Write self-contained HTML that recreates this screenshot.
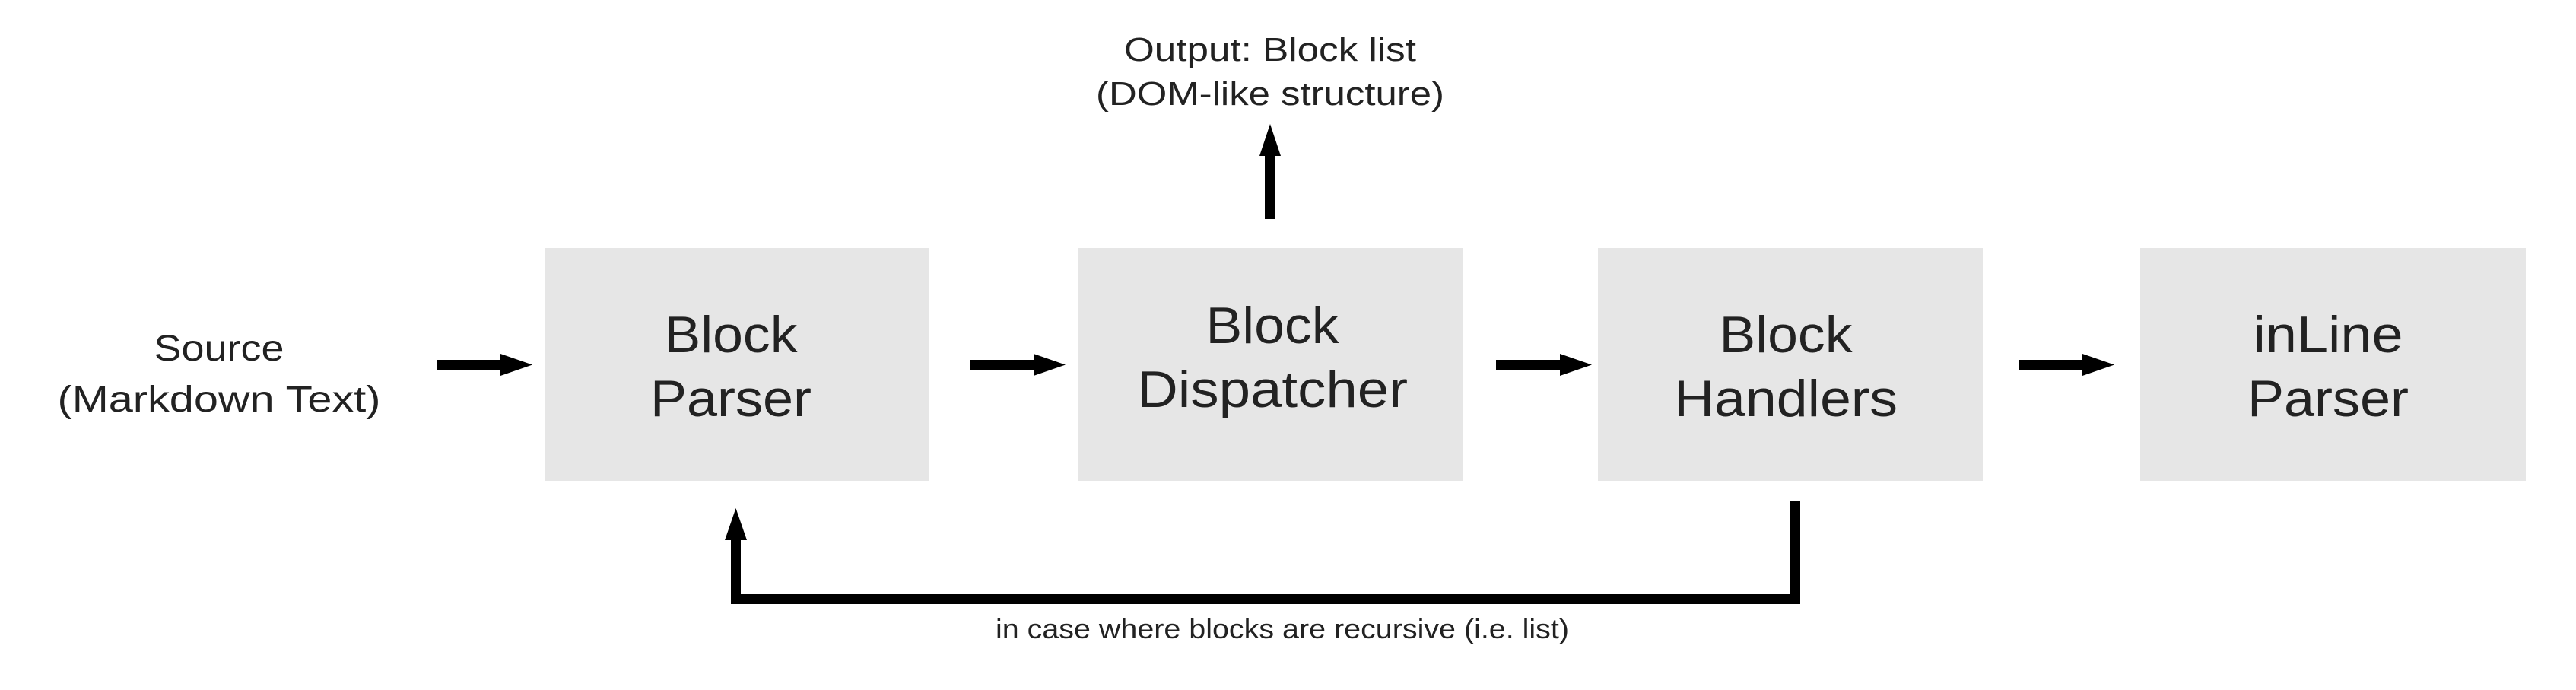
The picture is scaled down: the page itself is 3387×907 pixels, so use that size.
<!DOCTYPE html>
<html><head><meta charset="utf-8"><style>
html,body{margin:0;padding:0;background:#fff;}
svg{display:block;}
text{font-family:"Liberation Sans",sans-serif;fill:#222;text-anchor:middle;}
</style></head><body>
<svg width="3387" height="907" viewBox="0 0 3387 907" xmlns="http://www.w3.org/2000/svg">
<rect width="3387" height="907" fill="#fff"/>
<g fill="#e6e6e6">
<rect x="716" y="326" width="505" height="306"/>
<rect x="1418" y="326" width="505" height="306"/>
<rect x="2101" y="326" width="506" height="306"/>
<rect x="2814" y="326" width="507" height="306"/>
</g>
<g fill="#000">
<rect x="574" y="473" width="86" height="13"/><polygon points="658,465 700,479.5 658,494"/>
<rect x="1275" y="473" width="86" height="13"/><polygon points="1359,465 1401,479.5 1359,494"/>
<rect x="1967" y="473" width="86" height="13"/><polygon points="2051,465 2093,479.5 2051,494"/>
<rect x="2654" y="473" width="86" height="13"/><polygon points="2738,465 2780,479.5 2738,494"/>
<rect x="1663" y="203" width="14" height="85"/><polygon points="1656,205 1670,163 1684,205"/>
<rect x="2354" y="659" width="13" height="135"/>
<rect x="961" y="781" width="1406" height="13"/>
<rect x="961" y="708" width="13" height="86"/>
<polygon points="953,710 967.5,668 982,710"/>
</g>
<g lengthAdjust="spacingAndGlyphs">
<text x="288" y="474" font-size="48" textLength="171" lengthAdjust="spacingAndGlyphs">Source</text>
<text x="288" y="541" font-size="48" textLength="425" lengthAdjust="spacingAndGlyphs">(Markdown Text)</text>
<text x="961" y="463" font-size="68" textLength="175" lengthAdjust="spacingAndGlyphs">Block</text>
<text x="961" y="547" font-size="68" textLength="212" lengthAdjust="spacingAndGlyphs">Parser</text>
<text x="1673" y="451" font-size="68" textLength="175" lengthAdjust="spacingAndGlyphs">Block</text>
<text x="1673" y="535" font-size="68" textLength="356" lengthAdjust="spacingAndGlyphs">Dispatcher</text>
<text x="2348" y="463" font-size="68" textLength="175" lengthAdjust="spacingAndGlyphs">Block</text>
<text x="2348" y="547" font-size="68" textLength="294" lengthAdjust="spacingAndGlyphs">Handlers</text>
<text x="3061" y="463" font-size="68" textLength="197" lengthAdjust="spacingAndGlyphs">inLine</text>
<text x="3061" y="547" font-size="68" textLength="212" lengthAdjust="spacingAndGlyphs">Parser</text>
<text x="1670" y="80" font-size="44" textLength="384" lengthAdjust="spacingAndGlyphs">Output: Block list</text>
<text x="1670" y="138" font-size="44" textLength="458" lengthAdjust="spacingAndGlyphs">(DOM-like structure)</text>
<text x="1686" y="839" font-size="36" textLength="754" lengthAdjust="spacingAndGlyphs">in case where blocks are recursive (i.e. list)</text>
</g>
</svg>
</body></html>
